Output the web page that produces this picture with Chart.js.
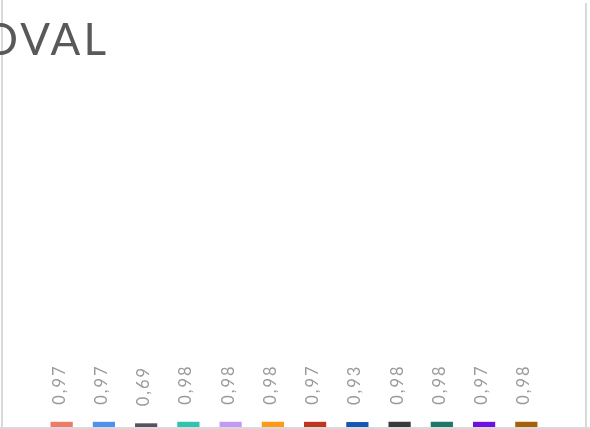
<!DOCTYPE html>
<html>
<head>
<meta charset="utf-8">
<script src="https://cdn.jsdelivr.net/npm/chart.js@4.4.1/dist/chart.umd.min.js"></script>
<style>
  html, body { margin: 0; padding: 0; background: #fff; }
  #wrap { width: 590px; height: 429px; }
</style>
</head>
<body>
<div id="wrap"><canvas id="chart" width="590" height="429"></canvas></div>
<script>
const chartTitle = 'APPROVAL';
const categories = [''];
const seriesNames = ['Série 1', 'Série 2', 'Série 3', 'Série 4', 'Série 5', 'Série 6',
                     'Série 7', 'Série 8', 'Série 9', 'Série 10', 'Série 11', 'Série 12'];
const seriesValues = [0.97, 0.97, 0.69, 0.98, 0.98, 0.98, 0.97, 0.93, 0.98, 0.98, 0.97, 0.98];
const seriesColors = ['#f07a65', '#5090ee', '#5a5060', '#30c4b0', '#c29af5', '#ff9a18',
                      '#be3520', '#1656b2', '#3a383c', '#1e7868', '#7010e0', '#a86008'];

// light grey frame around the plot
const framePlugin = {
    id: 'frame',
    beforeDraw(chart) {
        const { ctx, chartArea, width } = chart;
        ctx.save();
        ctx.fillStyle = '#d9d9d9';
        ctx.fillRect(chartArea.left - 1, 0, 2, chartArea.bottom + 2);
        ctx.fillRect(chartArea.right - 1, 3, 2, chartArea.bottom - 1);
        ctx.fillRect(0, chartArea.bottom, width, 2);
        ctx.restore();
    }
};

// rotated value labels above each bar + title cut at the left
const labelPlugin = {
    id: 'valueLabels',
    afterDatasetsDraw(chart) {
        const ctx = chart.ctx;
        ctx.save();
        ctx.fillStyle = '#9a9a9a';
        ctx.font = '400 16.5px Lato';
        ctx.letterSpacing = '2px';
        ctx.textAlign = 'left';
        ctx.textBaseline = 'alphabetic';
        chart.data.datasets.forEach((ds, i) => {
            const bar = chart.getDatasetMeta(i).data[0];
            const text = ds.data[0].toFixed(2).replace('.', ',');
            ctx.save();
            ctx.translate(bar.x + 3, bar.y - 17);
            ctx.rotate(-Math.PI / 2);
            ctx.fillText(text, 0, 0);
            ctx.restore();
        });
        ctx.fillStyle = '#595959';
        ctx.font = '400 44px Lato';
        ctx.letterSpacing = '3px';
        ctx.textAlign = 'right';
        ctx.fillText(chartTitle, 109, 54.5);
        ctx.restore();
    }
};

new Chart(document.getElementById('chart'), {
    type: 'bar',
    data: {
        labels: categories,
        datasets: seriesNames.map((name, i) => ({
            label: name,
            data: [seriesValues[i]],
            backgroundColor: seriesColors[i],
            categoryPercentage: 0.868,
            barPercentage: 0.526,
        })),
    },
    options: {
        responsive: false,
        animation: false,
        devicePixelRatio: 1,
        layout: { padding: { left: 2, right: 4, top: 0, bottom: 2 } },
        plugins: { legend: { display: false }, tooltip: { enabled: false }, title: { display: false } },
        scales: {
            x: { display: false },
            y: { display: false, min: 0, max: 80 },
        },
    },
    plugins: [framePlugin, labelPlugin],
});
</script>
</body>
</html>
